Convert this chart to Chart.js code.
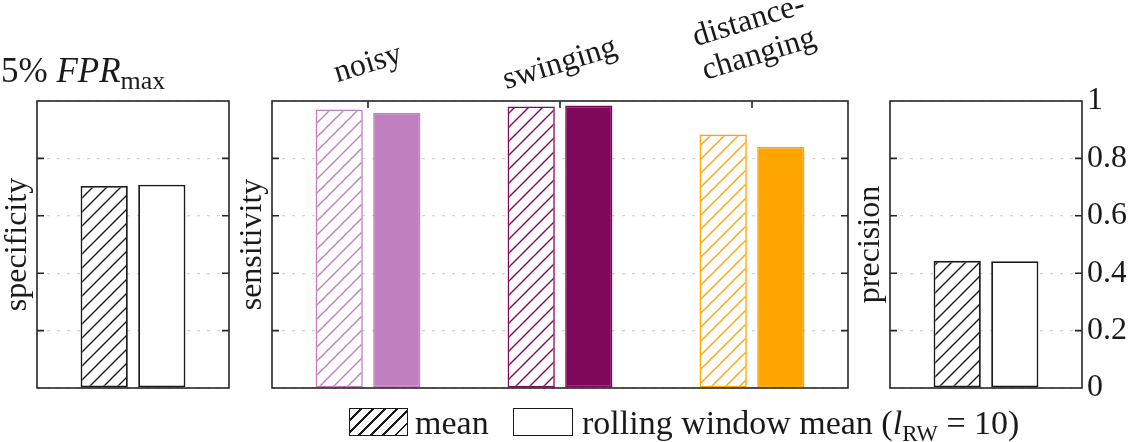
<!DOCTYPE html>
<html>
<head>
<meta charset="utf-8">
<script src="https://cdn.jsdelivr.net/npm/chart.js@4/dist/chart.umd.min.js"></script>
<style>
  html, body { margin: 0; padding: 0; background: #fff; }
  #wrap { position: relative; width: 1128px; height: 442px; overflow: hidden;
          font-family: "Liberation Serif", serif; color: #1a1a1a; }
  #wrap canvas { position: absolute; top: 0; }
  .txt { position: absolute; white-space: nowrap; font-size: 34px; line-height: 34px; }
  .sub { font-size: 23px; position: relative; top: 7px; }
  .sw { position: absolute; box-sizing: border-box; border: 1.5px solid #1a1a1a; background: #fff; }
  .hatch { background: repeating-linear-gradient(135deg, #fff 0 7px, #1a1a1a 7px 8.5px); }
</style>
</head>
<body>
<div id="wrap">
  <canvas id="cSpec" width="240" height="442" style="left:0px"></canvas>
  <canvas id="cSens" width="630" height="442" style="left:230px"></canvas>
  <canvas id="cPrec" width="278" height="442" style="left:850px"></canvas>

  <div class="txt" style="left:1px;top:53px;font-size:35px;line-height:35px">5% <i>FPR</i><span class="sub" style="font-size:26px">max</span></div>

  <div class="sw hatch" style="left:349px;top:408px;width:59px;height:28px"></div>
  <div class="txt" style="left:415px;top:406px">mean</div>
  <div class="sw" style="left:513px;top:408px;width:60px;height:28px"></div>
  <div class="txt" style="left:582px;top:406px">rolling window mean (<i>l</i><span class="sub">RW</span> = 10)</div>
</div>

<script>
// values
const specLabels = ['specificity'];
const specMean = [0.704];
const specRolling = [0.708];

const sensCategories = [['noisy'], ['swinging'], ['distance-', 'changing']];
const sensMean = [0.970, 0.981, 0.883];
const sensRolling = [0.958, 0.984, 0.840];

const precLabels = ['precision'];
const precMean = [0.443];
const precRolling = [0.442];

const yMin = 0;
const yMax = 1;
const yStep = 0.2;

const sensColours = ['#bf7fbf', '#80085a', '#ffa500'];

const ink = '#1a1a1a';
const serif = '"Liberation Serif", "Times New Roman", serif';

Chart.defaults.font.family = serif;
Chart.defaults.color = ink;

// diagonal hatch fill, white behind the lines
function hatch(colour) {
  const s = 14;
  const c = document.createElement('canvas');
  c.width = s;
  c.height = s;
  const g = c.getContext('2d');
  g.fillStyle = '#fff';
  g.fillRect(0, 0, s, s);
  g.strokeStyle = colour;
  g.lineWidth = 1.4;
  g.beginPath();
  g.moveTo(0, s); g.lineTo(s, 0);
  g.moveTo(-s / 2, s / 2); g.lineTo(s / 2, -s / 2);
  g.moveTo(s / 2, s * 1.5); g.lineTo(s * 1.5, s / 2);
  g.stroke();
  return g.createPattern(c, 'repeat');
}

// box around the plot area plus the small inward ticks
const framePlugin = {
  id: 'frame',
  afterDraw(chart, args, opts) {
    const {ctx, chartArea: a} = chart;
    const y = chart.scales.y;
    const x = chart.scales.x;
    ctx.save();
    ctx.strokeStyle = '#262626';
    ctx.lineWidth = 1.6;
    ctx.strokeRect(a.left, a.top, a.right - a.left, a.bottom - a.top);
    ctx.beginPath();
    y.ticks.forEach(t => {
      if (t.value <= yMin || t.value >= yMax) return;
      const py = y.getPixelForValue(t.value);
      ctx.moveTo(a.left, py); ctx.lineTo(a.left + 7, py);
      ctx.moveTo(a.right, py); ctx.lineTo(a.right - 7, py);
    });
    if (opts.topTicks) {
      x.ticks.forEach((t, i) => {
        const px = x.getPixelForTick(i);
        ctx.moveTo(px, a.top); ctx.lineTo(px, a.top + 7);
      });
    }
    ctx.stroke();
    ctx.restore();
  }
};

// rotated category names above the middle panel, block centred over the tick
const catLabelPlugin = {
  id: 'catLabels',
  afterDraw(chart, args, opts) {
    if (!opts.show) return;
    const {ctx, chartArea: a} = chart;
    const x = chart.scales.x;
    ctx.save();
    ctx.font = '32px ' + serif;
    ctx.fillStyle = ink;
    ctx.textAlign = 'center';
    ctx.textBaseline = 'middle';
    chart.data.labels.forEach((lab, i) => {
      const lines = [].concat(lab);
      ctx.save();
      ctx.translate(x.getPixelForTick(i) + (lines.length - 1) * 2, a.top - 37 - (lines.length - 1) * 26);
      ctx.rotate(-17 * Math.PI / 180);
      lines.forEach((ln, j) => {
        ctx.fillText(ln, 0, (j - (lines.length - 1) / 2) * 35);
      });
      ctx.restore();
    });
    ctx.restore();
  }
};

function yAxis(title) {
  return {
    min: yMin,
    max: yMax,
    ticks: {display: false, stepSize: yStep},
    grid: {color: '#d2d2d2', lineWidth: 1.2, drawTicks: false},
    border: {display: false, dash: [3, 7]},
    title: {
      display: true,
      text: title,
      color: ink,
      font: {family: serif, size: 32, lineHeight: 1},
      padding: {top: 0, bottom: 3},
    },
    afterFit: s => { s.width = 35; },
  };
}

function makePanel(id, labels, datasets, pad, opts) {
  const scales = {
    x: {display: false},
    y: yAxis(opts.title),
  };
  if (opts.rightTicks) {
    scales.y2 = {
      position: 'right',
      min: yMin,
      max: yMax,
      ticks: {
        stepSize: yStep, padding: 5, color: ink, font: {family: serif, size: 32},
        callback: v => String(+v.toFixed(1)),
      },
      grid: {display: false, drawTicks: false},
      border: {display: false},
      afterFit: s => { s.width = 44; },
    };
  }
  return new Chart(document.getElementById(id), {
    type: 'bar',
    data: {labels: labels, datasets: datasets},
    options: {
      responsive: false,
      animation: false,
      layout: {padding: pad},
      scales: scales,
      plugins: {
        legend: {display: false},
        tooltip: {enabled: false},
        frame: {topTicks: !!opts.topTicks},
        catLabels: {show: !!opts.topTicks},
      },
      datasets: {
        bar: {categoryPercentage: 0.6, barPercentage: 0.82, borderSkipped: false},
      },
    },
    plugins: [framePlugin, catLabelPlugin],
  });
}

function blackPair(meanVals, rollVals) {
  return [
    {label: 'mean', data: meanVals, backgroundColor: hatch(ink), borderColor: ink, borderWidth: 1.8},
    {label: 'rolling window mean', data: rollVals, backgroundColor: '#fff', borderColor: ink, borderWidth: 1.8},
  ];
}

makePanel('cSpec', [''], blackPair(specMean, specRolling),
  {left: 2, right: 11, top: 101, bottom: 54}, {title: specLabels[0]});

makePanel('cSens', sensCategories, [
  {label: 'mean', data: sensMean, backgroundColor: sensColours.map(hatch), borderColor: sensColours, borderWidth: 1.6},
  {label: 'rolling window mean', data: sensRolling, backgroundColor: sensColours, borderColor: sensColours, borderWidth: 1.6},
], {left: 7, right: 12, top: 101, bottom: 54}, {title: 'sensitivity', topTicks: true});

makePanel('cPrec', [''], blackPair(precMean, precRolling),
  {left: 5, right: 2, top: 101, bottom: 54}, {title: precLabels[0], rightTicks: true});
</script>
</body>
</html>
